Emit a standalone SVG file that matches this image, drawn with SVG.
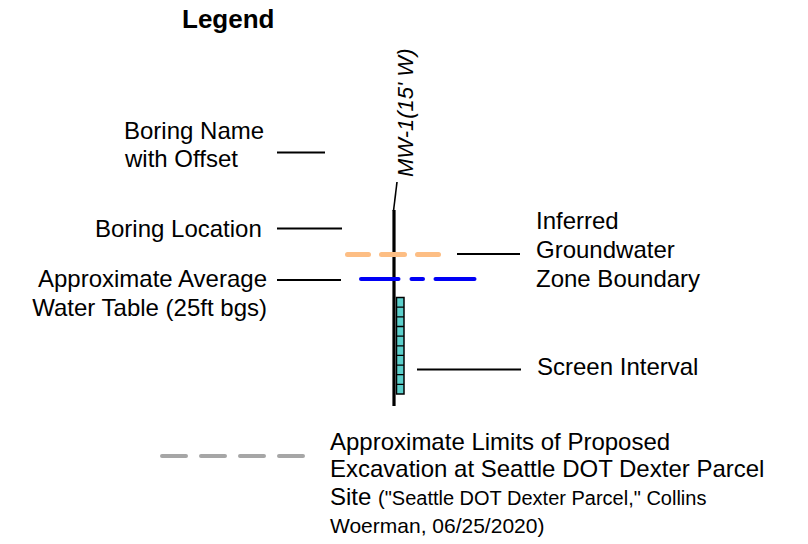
<svg xmlns="http://www.w3.org/2000/svg" width="808" height="544" viewBox="0 0 808 544">
<style>
text{font-family:"Liberation Sans",Arial,sans-serif;font-size:24px;fill:#000}
.title{font-weight:bold;font-size:26px}
.small{font-size:20px}
.small2{font-size:21px}
.leader{stroke:#000;stroke-width:1.8;fill:none}
</style>
<rect width="808" height="544" fill="#fff"/>
<g id="title"><text class="title" x="182" y="28">Legend</text></g>
<g id="connectors">
<line class="leader" x1="277" y1="152.5" x2="325" y2="152.5"/>
<line class="leader" x1="277" y1="228.5" x2="342" y2="228.5"/>
<line class="leader" x1="277" y1="280" x2="341" y2="280"/>
<line class="leader" x1="457" y1="254" x2="520" y2="254"/>
<line class="leader" x1="417" y1="369.5" x2="521" y2="369.5"/>
</g>
<g id="label-boring-name"><text x="124" y="139">Boring Name</text><text x="125" y="167">with Offset</text></g>
<g id="label-boring-location"><text x="95" y="237">Boring Location</text></g>
<g id="label-water-table"><text text-anchor="end" x="267" y="287">Approximate Average</text><text text-anchor="end" x="267" y="316">Water Table (25ft bgs)</text></g>
<g id="label-groundwater"><text x="536" y="229">Inferred</text><text x="536" y="258">Groundwater</text><text x="536" y="287">Zone Boundary</text></g>
<g id="label-screen"><text x="537" y="375">Screen Interval</text></g>
<g id="boring">
<line x1="393.5" y1="211" x2="397" y2="182" stroke="#000" stroke-width="1.6"/>
<text font-style="italic" style="font-size:22px" transform="translate(413,177) rotate(-90)">MW-1(15' W)</text>
<line x1="394" y1="210" x2="394" y2="406" stroke="#000" stroke-width="3.2"/>
<g id="screen-interval">
<rect x="396.5" y="297.5" width="7.5" height="96.5" fill="#5CCFCB" stroke="#000" stroke-width="1.5"/>
<path d="M396.5 307.2H404M396.5 316.8H404M396.5 326.5H404M396.5 336.1H404M396.5 345.8H404M396.5 355.4H404M396.5 365.1H404M396.5 374.7H404M396.5 384.4H404" stroke="#000" stroke-width="1.3"/>
</g>
</g>
<g id="groundwater-boundary" stroke="#FDBE84" stroke-width="5" stroke-linecap="round">
<line x1="347.5" y1="254.5" x2="368.5" y2="254.5"/>
<line x1="381.5" y1="254.5" x2="404.5" y2="254.5"/>
<line x1="417.5" y1="254.5" x2="438.5" y2="254.5"/>
</g>
<g id="water-table" stroke="#0000F5" stroke-width="4" stroke-linecap="round">
<line x1="361" y1="279" x2="398.5" y2="279"/>
<line x1="411.5" y1="279" x2="423" y2="279"/>
<line x1="435.5" y1="279" x2="474.5" y2="279"/>
</g>
<g id="excavation-limits">
<line x1="162" y1="456" x2="303" y2="456" stroke="#A6A6A6" stroke-width="4" stroke-linecap="round" stroke-dasharray="24 15"/>
<text x="330" y="450">Approximate Limits of Proposed</text>
<text x="330" y="477">Excavation at Seattle DOT Dexter Parcel</text>
<text x="330" y="505">Site <tspan class="small">("Seattle DOT Dexter Parcel," Collins</tspan></text>
<text class="small2" x="330" y="533">Woerman, 06/25/2020)</text>
</g>
</svg>
